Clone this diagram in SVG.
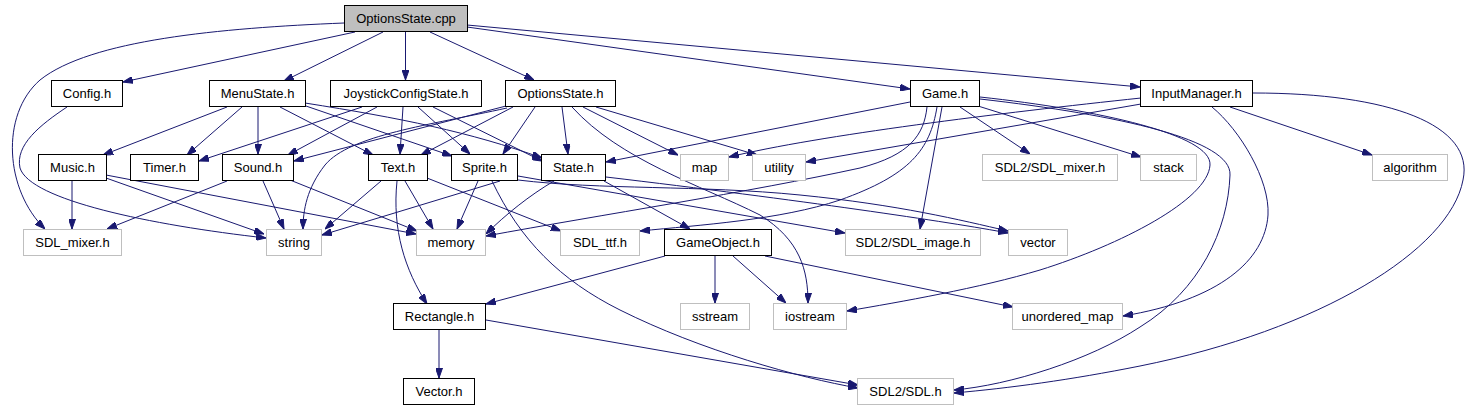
<svg xmlns="http://www.w3.org/2000/svg" width="1471" height="411" viewBox="0 0 1471 411">
<defs>
<marker id="a" viewBox="0 0 10 7" refX="10" refY="3.5" markerWidth="10" markerHeight="7" orient="auto" markerUnits="userSpaceOnUse"><path d="M0,0 L10,3.5 L0,7 z" fill="#191970" stroke="#191970" stroke-width="1"/></marker>
</defs>
<style>
.n rect{fill:#fff;stroke:#000;stroke-width:1}
.g rect{fill:#fff;stroke:#bfbfbf;stroke-width:1}
.r rect{fill:#bfbfbf;stroke:#000;stroke-width:1}
text{font-family:"Liberation Sans",Arial,Helvetica,sans-serif;font-size:13px;fill:#000;text-anchor:middle}
#edges path{fill:none;stroke:#191970;stroke-width:1;marker-end:url(#a)}
</style>
<rect width="1471" height="411" fill="#fff"/>
<g id="edges">
<path d="M355,32 L123,82"/>
<path d="M383,32 L284,81"/>
<path d="M405.5,32 L405.5,80"/>
<path d="M430,32 L534,80"/>
<path d="M467,27 L910,89"/>
<path d="M467,25 L1140,87"/>
<path d="M344,23 C220,28 90,40 40,80 C0,115 5,190 45,229"/>
<path d="M67,107 C40,125 15,145 20,168 C30,200 150,225 266,238"/>
<path d="M227,107 L103,155"/>
<path d="M242,107 L187,155"/>
<path d="M258,107 L258,154"/>
<path d="M280,107 L373,155"/>
<path d="M303,105 L452,156"/>
<path d="M305,103 C400,118 470,132 542,158"/>
<path d="M362,107 L199,161"/>
<path d="M377,107 L288,155"/>
<path d="M403,107 L400,154"/>
<path d="M418,107 L470,154"/>
<path d="M433,107 L542,161"/>
<path d="M506,106 L294,161"/>
<path d="M507,108 C430,125 350,135 325,165 C307,188 303,210 303,229"/>
<path d="M513,107 L421,155"/>
<path d="M535,107 L503,154"/>
<path d="M562,107 L568,154"/>
<path d="M572,107 C620,160 700,185 760,215 C800,240 808,270 808,303"/>
<path d="M583,107 L678,155"/>
<path d="M596,107 L757,155"/>
<path d="M910,102 L606,162"/>
<path d="M927,107 C924,135 910,155 860,168 C750,192 600,215 486,236"/>
<path d="M937,107 C930,150 910,175 840,200 C780,220 700,225 640,231"/>
<path d="M942,107 L920,229"/>
<path d="M960,107 L1030,154"/>
<path d="M978,106 L1141,157"/>
<path d="M980,97 C1100,110 1212,135 1210,165 C1208,200 1120,245 1040,270 C980,288 900,302 847,311"/>
<path d="M980,99 C1120,115 1232,140 1230,175 C1228,230 1200,290 1140,327 C1090,360 1010,385 954,390"/>
<path d="M1141,98 C1000,113 820,135 729,157"/>
<path d="M1141,104 L806,162"/>
<path d="M1230,107 L1372,155"/>
<path d="M1212,107 C1240,130 1270,180 1268,215 C1265,260 1220,300 1123,316"/>
<path d="M1253,93 C1390,93 1475,125 1463,180 C1450,250 1320,330 1140,366 C1070,380 1010,388 954,393"/>
<path d="M554,181 C530,195 505,215 486,234"/>
<path d="M604,181 L690,229"/>
<path d="M606,177 C800,200 950,222 1008,233"/>
<path d="M500,181 L322,235"/>
<path d="M478,181 L457,229"/>
<path d="M492,181 C520,240 560,280 620,310 C700,350 800,378 858,388"/>
<path d="M518,176 L845,233"/>
<path d="M518,180 C600,190 700,185 800,195 C900,205 960,220 1008,231"/>
<path d="M381,181 L325,229"/>
<path d="M397,181 C392,230 405,270 427,304"/>
<path d="M405,181 L433,229"/>
<path d="M427,178 L561,231"/>
<path d="M72,181 L72,229"/>
<path d="M106,178 L264,234"/>
<path d="M106,175 L416,234"/>
<path d="M227,181 L107,229"/>
<path d="M263,181 L284,229"/>
<path d="M290,180 L417,231"/>
<path d="M665,256 L486,304"/>
<path d="M715,256 L715,303"/>
<path d="M733,256 L786,303"/>
<path d="M765,256 L1013,307"/>
<path d="M439,330 L439,378"/>
<path d="M486,320 L858,385"/>
</g>
<g id="OptionsState_cpp" class="r"><rect x="344.5" y="5.5" width="123" height="26"/><text x="406" y="23">OptionsState.cpp</text></g>
<g id="Config_h" class="n"><rect x="51.5" y="80.5" width="71" height="26"/><text x="87" y="98">Config.h</text></g>
<g id="MenuState_h" class="n"><rect x="209.5" y="80.5" width="96" height="26"/><text x="257.5" y="98">MenuState.h</text></g>
<g id="JoystickConfigState_h" class="n"><rect x="330.5" y="80.5" width="151" height="26"/><text x="406" y="98">JoystickConfigState.h</text></g>
<g id="OptionsState_h" class="n"><rect x="505.5" y="80.5" width="110" height="26"/><text x="560.5" y="98">OptionsState.h</text></g>
<g id="Game_h" class="n"><rect x="910.5" y="80.5" width="69" height="26"/><text x="945" y="98">Game.h</text></g>
<g id="InputManager_h" class="n"><rect x="1140.5" y="80.5" width="112" height="26"/><text x="1196.5" y="98">InputManager.h</text></g>
<g id="Music_h" class="n"><rect x="38.5" y="154.5" width="68" height="26"/><text x="72.5" y="172">Music.h</text></g>
<g id="Timer_h" class="n"><rect x="130.5" y="154.5" width="68" height="26"/><text x="164.5" y="172">Timer.h</text></g>
<g id="Sound_h" class="n"><rect x="222.5" y="154.5" width="71" height="26"/><text x="258" y="172">Sound.h</text></g>
<g id="Text_h" class="n"><rect x="368.5" y="154.5" width="59" height="26"/><text x="398" y="172">Text.h</text></g>
<g id="Sprite_h" class="n"><rect x="451.5" y="154.5" width="66" height="26"/><text x="484.5" y="172">Sprite.h</text></g>
<g id="State_h" class="n"><rect x="541.5" y="154.5" width="64" height="26"/><text x="573.5" y="172">State.h</text></g>
<g id="map" class="g"><rect x="680.5" y="154.5" width="48" height="26"/><text x="704.5" y="172">map</text></g>
<g id="utility" class="g"><rect x="752.5" y="154.5" width="53" height="26"/><text x="779" y="172">utility</text></g>
<g id="SDL2_SDL_mixer_h" class="g"><rect x="982.5" y="154.5" width="135" height="26"/><text x="1050" y="172">SDL2/SDL_mixer.h</text></g>
<g id="stack" class="g"><rect x="1140.5" y="154.5" width="56" height="26"/><text x="1168.5" y="172">stack</text></g>
<g id="algorithm" class="g"><rect x="1372.5" y="154.5" width="75" height="26"/><text x="1410" y="172">algorithm</text></g>
<g id="SDL_mixer_h" class="g"><rect x="23.5" y="229.5" width="98" height="26"/><text x="72.5" y="247">SDL_mixer.h</text></g>
<g id="string" class="g"><rect x="266.5" y="229.5" width="55" height="26"/><text x="294" y="247">string</text></g>
<g id="memory" class="g"><rect x="416.5" y="229.5" width="69" height="26"/><text x="451" y="247">memory</text></g>
<g id="SDL_ttf_h" class="g"><rect x="560.5" y="229.5" width="79" height="26"/><text x="600" y="247">SDL_ttf.h</text></g>
<g id="GameObject_h" class="n"><rect x="664.5" y="229.5" width="107" height="26"/><text x="718" y="247">GameObject.h</text></g>
<g id="SDL2_SDL_image_h" class="g"><rect x="845.5" y="229.5" width="135" height="26"/><text x="913" y="247">SDL2/SDL_image.h</text></g>
<g id="vector" class="g"><rect x="1008.5" y="229.5" width="59" height="26"/><text x="1038" y="247">vector</text></g>
<g id="Rectangle_h" class="n"><rect x="393.5" y="303.5" width="92" height="26"/><text x="439.5" y="321">Rectangle.h</text></g>
<g id="sstream" class="g"><rect x="680.5" y="303.5" width="69" height="26"/><text x="715" y="321">sstream</text></g>
<g id="iostream" class="g"><rect x="773.5" y="303.5" width="73" height="26"/><text x="810" y="321">iostream</text></g>
<g id="unordered_map" class="g"><rect x="1012.5" y="303.5" width="110" height="26"/><text x="1067.5" y="321">unordered_map</text></g>
<g id="Vector_h" class="n"><rect x="403.5" y="378.5" width="71" height="26"/><text x="439" y="396">Vector.h</text></g>
<g id="SDL2_SDL_h" class="g"><rect x="857.5" y="378.5" width="96" height="26"/><text x="905.5" y="396">SDL2/SDL.h</text></g>
</svg>
